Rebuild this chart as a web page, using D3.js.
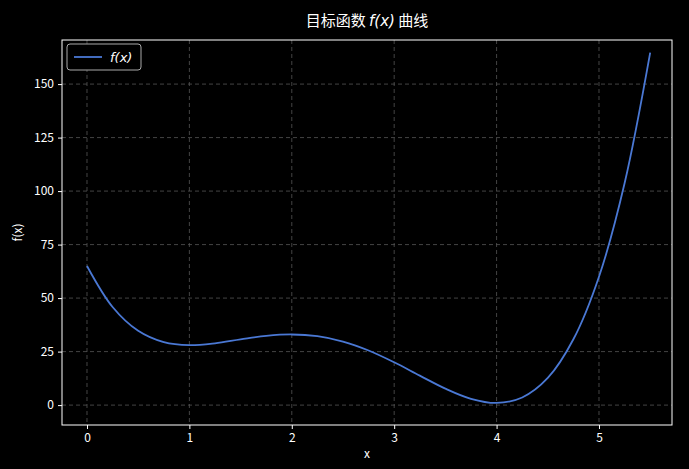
<!DOCTYPE html>
<html><head><meta charset="utf-8">
<script src="https://cdn.jsdelivr.net/npm/d3@7"></script>
<style>body{margin:0;background:#000}svg{display:block;font-family:"Noto Sans CJK SC","DejaVu Sans",sans-serif}</style>
</head><body><svg id="c" width="689" height="469"></svg>
<script>
const xs = [0,0.25,0.5,0.75,1,1.25,1.5,1.75,2,2.25,2.5,2.75,3,3.25,3.5,3.75,4,4.25,4.5,4.75,5,5.25,5.5];
const ys = [65,45.82,34.69,29.39,28,28.88,30.69,32.33,33,32.2,29.69,25.52,20,13.78,7.69,2.95,1,3.57,12.69,30.76,60,103.63,164.69];
const xTicks = [0,1,2,3,4,5];
const yTicks = [0,25,50,75,100,125,150];

const svg = d3.select("#c");
const L=62,R=672,T=40,B=425;
const x = d3.scaleLinear().domain([-0.244,5.713]).range([L,R]);
const y = d3.scaleLinear().domain([-9.3,170.6]).range([B,T]);
svg.append("rect").attr("width",689).attr("height",469).attr("fill","#000");
const g = svg.append("g");
g.selectAll(".gx").data(xTicks).join("line").attr("x1",d=>x(d)).attr("x2",d=>x(d)).attr("y1",T).attr("y2",B)
 .attr("stroke","#555").attr("stroke-dasharray","4,3").attr("stroke-width",0.8);
g.selectAll(".gy").data(yTicks).join("line").attr("y1",d=>y(d)).attr("y2",d=>y(d)).attr("x1",L).attr("x2",R)
 .attr("stroke","#555").attr("stroke-dasharray","4,3").attr("stroke-width",0.8);
const xa = svg.append("g").attr("transform",`translate(0,${B})`).call(d3.axisBottom(x).tickValues(xTicks).tickFormat(d3.format("d")).tickSize(4).tickPadding(4));
const ya = svg.append("g").attr("transform",`translate(${L},0)`).call(d3.axisLeft(y).tickValues(yTicks).tickFormat(d3.format("d")).tickSize(4).tickPadding(4));
[xa,ya].forEach(a=>{a.select(".domain").remove();a.selectAll("line").attr("stroke","#fff");a.selectAll("text").attr("fill","#fff").attr("font-size",12).attr("font-family","'Noto Sans CJK SC',sans-serif");});
svg.append("rect").attr("x",L).attr("y",T).attr("width",R-L).attr("height",B-T).attr("fill","none").attr("stroke","#fff").attr("stroke-width",1);
svg.append("path").datum(xs.map((v,i)=>[v,ys[i]])).attr("fill","none").attr("stroke","#4a78d4").attr("stroke-width",1.8)
 .attr("d",d3.line().x(d=>x(d[0])).y(d=>y(d[1])).curve(d3.curveCatmullRom));
svg.append("text").attr("x",(L+R)/2).attr("y",26).attr("text-anchor","middle").attr("fill","#fff").attr("font-size",15)
 .html('目标函数 <tspan font-style="italic" font-family="DejaVu Sans">f(x)</tspan> 曲线');
svg.append("text").attr("x",(L+R)/2).attr("y",458).attr("text-anchor","middle").attr("fill","#fff").attr("font-size",12).text("x");
svg.append("text").attr("transform",`translate(22,${(T+B)/2}) rotate(-90)`).attr("text-anchor","middle").attr("fill","#fff").attr("font-size",12).text("f(x)");
svg.append("rect").attr("x",67).attr("y",44).attr("width",74).attr("height",26).attr("rx",3).attr("fill","#000").attr("stroke","#aaa");
svg.append("line").attr("x1",74).attr("x2",102).attr("y1",57).attr("y2",57).attr("stroke","#4a78d4").attr("stroke-width",1.8);
svg.append("text").attr("x",110).attr("y",62).attr("fill","#fff").attr("font-size",13).attr("font-style","italic").attr("font-family","DejaVu Sans").text("f(x)");
</script></body></html>
